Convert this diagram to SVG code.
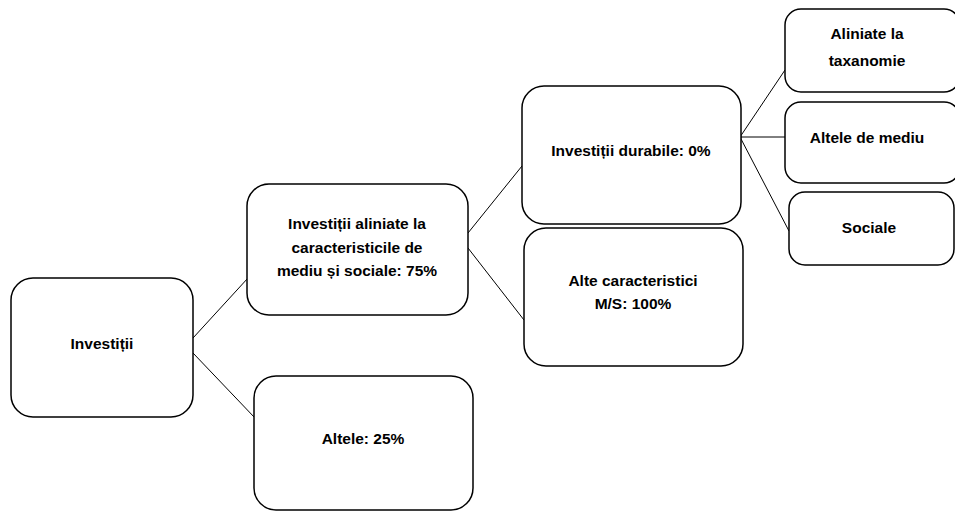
<svg xmlns="http://www.w3.org/2000/svg" width="955" height="512" viewBox="0 0 955 512">
<style>
.box{fill:#fff;stroke:#000;stroke-width:1.5}
.t{font-family:"Liberation Sans",Arial,sans-serif;font-weight:bold;font-size:15.5px;fill:#000;text-anchor:middle;dominant-baseline:central}
.c{stroke:#000;stroke-width:1;fill:none}
</style>
<rect width="955" height="512" fill="#fff"/>
<g id="connectors">
<line class="c" x1="193" y1="338" x2="248" y2="278"/>
<line class="c" x1="193" y1="353" x2="255" y2="418"/>
<line class="c" x1="468" y1="233" x2="522" y2="166"/>
<line class="c" x1="468" y1="248" x2="524" y2="320"/>
<line class="c" x1="740" y1="137" x2="785" y2="70"/>
<line class="c" x1="740" y1="137" x2="785" y2="137"/>
<line class="c" x1="740" y1="137" x2="789" y2="231"/>
<circle cx="740" cy="137" r="1.5" fill="#000"/>
</g>
<g id="n-investitii">
<rect class="box" x="11" y="278" width="182" height="139" rx="22"/>
<text class="t" x="102" y="343">Investiții</text>
</g>
<g id="n-aliniate">
<rect class="box" x="247" y="184" width="221" height="131" rx="22"/>
<text class="t" x="357" y="223">Investiții aliniate la</text>
<text class="t" x="357" y="247">caracteristicile de</text>
<text class="t" x="357" y="270">mediu și sociale: 75%</text>
</g>
<g id="n-altele">
<rect class="box" x="254" y="376" width="219" height="134" rx="22"/>
<text class="t" x="363" y="438">Altele: 25%</text>
</g>
<g id="n-durabile">
<rect class="box" x="522" y="86" width="219" height="138" rx="22"/>
<text class="t" x="631" y="150">Investiții durabile: 0%</text>
</g>
<g id="n-alte-caract">
<rect class="box" x="524" y="228" width="219" height="138" rx="22"/>
<text class="t" x="633" y="280">Alte caracteristici</text>
<text class="t" x="633" y="303">M/S: 100%</text>
</g>
<g id="n-taxonomie">
<rect class="box" x="785" y="9" width="175" height="83" rx="16"/>
<text class="t" x="867" y="33">Aliniate la</text>
<text class="t" x="867" y="60">taxanomie</text>
</g>
<g id="n-mediu">
<rect class="box" x="785" y="102" width="175" height="81" rx="16"/>
<text class="t" x="867" y="137">Altele de mediu</text>
</g>
<g id="n-sociale">
<rect class="box" x="789" y="192" width="165" height="73" rx="16"/>
<text class="t" x="869" y="227">Sociale</text>
</g>
</svg>
